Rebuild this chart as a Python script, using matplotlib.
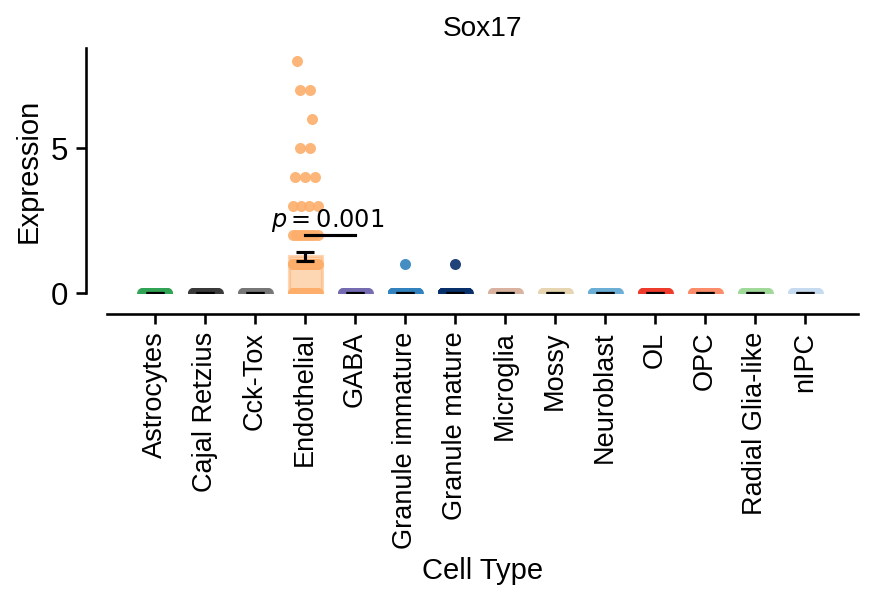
import numpy as np
import matplotlib
matplotlib.use('Agg')
import matplotlib.pyplot as plt

plt.rcParams['font.family'] = ['Liberation Sans', 'DejaVu Sans']

cell_types = ['Astrocytes', 'Cajal Retzius', 'Cck-Tox', 'Endothelial', 'GABA',
              'Granule immature', 'Granule mature', 'Microglia', 'Mossy',
              'Neuroblast', 'OL', 'OPC', 'Radial Glia-like', 'nIPC']
colors = ['#31a354', '#3a3a3a', '#777777', '#fdae6b', '#756bb1', '#3182bd',
          '#08306b', '#d9b3a0', '#e6d5b0', '#6baed6', '#ef3b2c', '#fc8d6a',
          '#a1d99b', '#c6dbef']

# expression level -> number of cells, per cell type
levels = [0, 1, 2, 3, 4, 5, 6, 7, 8]
counts = {
    'Astrocytes':       [40, 0, 0, 0, 0, 0, 0, 0, 0],
    'Cajal Retzius':    [40, 0, 0, 0, 0, 0, 0, 0, 0],
    'Cck-Tox':          [40, 0, 0, 0, 0, 0, 0, 0, 0],
    'Endothelial':      [30, 50, 9, 4, 3, 2, 1, 2, 1],
    'GABA':             [40, 0, 0, 0, 0, 0, 0, 0, 0],
    'Granule immature': [200, 1, 0, 0, 0, 0, 0, 0, 0],
    'Granule mature':   [400, 1, 0, 0, 0, 0, 0, 0, 0],
    'Microglia':        [40, 0, 0, 0, 0, 0, 0, 0, 0],
    'Mossy':            [40, 0, 0, 0, 0, 0, 0, 0, 0],
    'Neuroblast':       [60, 0, 0, 0, 0, 0, 0, 0, 0],
    'OL':               [60, 0, 0, 0, 0, 0, 0, 0, 0],
    'OPC':              [40, 0, 0, 0, 0, 0, 0, 0, 0],
    'Radial Glia-like': [40, 0, 0, 0, 0, 0, 0, 0, 0],
    'nIPC':             [40, 0, 0, 0, 0, 0, 0, 0, 0],
}
p_text = '$p = 0.001$'
p_pair = (3, 4)
p_height = 2.0

fig = plt.figure(figsize=(872 / 150, 598 / 150), dpi=150)
ax = fig.add_axes([0.1227, 0.51, 0.8613, 0.4097])

# spines first: moving them resets the ticks
for side in ['top', 'right']:
    ax.spines[side].set_visible(False)
for side in ['left', 'bottom']:
    ax.spines[side].set_position(('outward', 10))
    ax.spines[side].set_linewidth(1.25)

for i, ct in enumerate(cell_types):
    vals = np.repeat(levels, counts[ct]).astype(float)
    mean = vals.mean()
    sem = vals.std(ddof=1) / np.sqrt(len(vals))
    ax.bar(i, mean, width=0.66, color=colors[i], alpha=0.5,
           edgecolor=colors[i], linewidth=1.5, zorder=1)
    # spread points of each level sideways
    for lv, c in zip(levels, counts[ct]):
        if c == 0:
            continue
        w = 0.25 if c > 3 else 0.1 * (c - 1)
        xs = i + np.linspace(-w, w, c)
        if c == 1 and lv > 0:
            xs = xs + (-0.16 if lv == 8 else 0.14 if lv == 6 else 0.0)
        ax.scatter(xs, np.full(c, lv), s=28, color=colors[i], alpha=0.9,
                   linewidths=0, zorder=2)
    ax.errorbar(i, mean, yerr=sem, color='black', capsize=4.5,
                elinewidth=1.5, capthick=1.5, zorder=3)

ax.plot(p_pair, [p_height, p_height], color='black', lw=1.5, zorder=4)
ax.text(np.mean(p_pair) - 0.05, p_height + 0.03, p_text, ha='center',
        va='bottom', fontsize=11.5, family='DejaVu Sans', zorder=5)

ax.set_xlim(-0.96, 14.06)
ax.set_ylim(0, 8.45)
ax.set_yticks([0, 5])
ax.set_xticks(range(len(cell_types)))
ax.set_xticklabels(cell_types)
ax.tick_params(axis='y', labelsize=15, width=1.25, length=5)
ax.tick_params(axis='x', labelsize=13, labelrotation=90, width=1.25, length=5)
ax.set_xlabel('Cell Type', fontsize=14)
ax.set_ylabel('Expression', fontsize=14)
ax.set_title('Sox17', fontsize=13.5)

fig.savefig('out.png', dpi=150)
